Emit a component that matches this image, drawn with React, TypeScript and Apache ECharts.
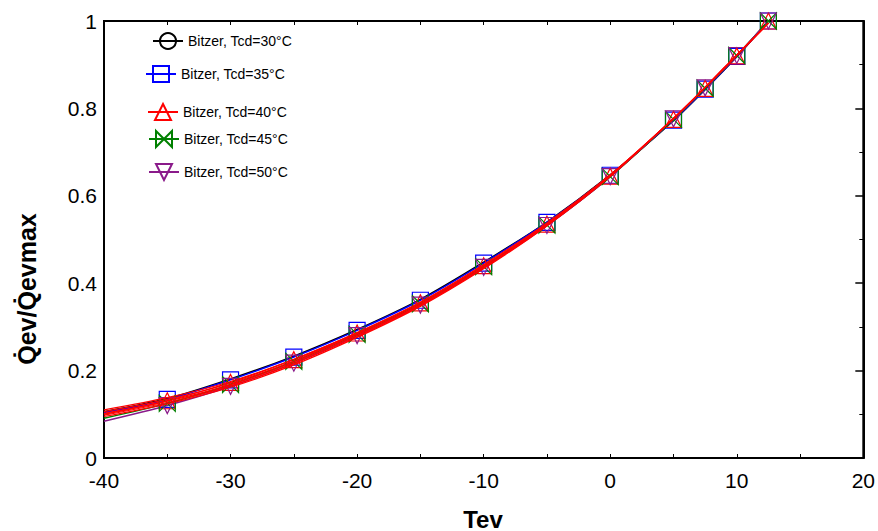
import React, { useEffect, useRef } from "react";
import * as echarts from "echarts";

const tev = [-40, -35, -30, -25, -20, -15, -10, -5, 0, 5, 7.5, 10, 12.5];

const tcd30 = [0.106, 0.136, 0.181, 0.233, 0.294, 0.363, 0.448, 0.540, 0.648, 0.772, 0.843, 0.918, 1.0];
const tcd35 = [0.104, 0.134, 0.179, 0.231, 0.292, 0.361, 0.446, 0.539, 0.647, 0.773, 0.844, 0.919, 1.0];
const tcd40 = [0.100, 0.131, 0.173, 0.225, 0.286, 0.355, 0.440, 0.535, 0.645, 0.775, 0.846, 0.920, 1.0];
const tcd45 = [0.091, 0.125, 0.168, 0.221, 0.283, 0.353, 0.438, 0.533, 0.644, 0.775, 0.846, 0.921, 1.0];
const tcd50 = [0.084, 0.120, 0.164, 0.217, 0.280, 0.350, 0.436, 0.532, 0.644, 0.776, 0.847, 0.921, 1.0];

const fitA = [0.110, 0.138, 0.175, 0.226, 0.287, 0.357, 0.443, 0.538, 0.648, 0.777, 0.848, 0.922, 0.995];
const fitB = [0.106, 0.134, 0.171, 0.222, 0.284, 0.354, 0.440, 0.536, 0.647, 0.777, 0.848, 0.922, 0.995];
const fitC = [0.102, 0.130, 0.168, 0.219, 0.281, 0.351, 0.437, 0.534, 0.646, 0.777, 0.848, 0.922, 0.995];
const fitD = [0.098, 0.127, 0.165, 0.216, 0.278, 0.349, 0.435, 0.533, 0.645, 0.777, 0.848, 0.922, 0.995];
const fitE = [0.095, 0.124, 0.162, 0.213, 0.276, 0.347, 0.433, 0.531, 0.644, 0.777, 0.848, 0.922, 0.995];

const seriesNames = [
  "Bitzer, Tcd=30°C",
  "Bitzer, Tcd=35°C",
  "Bitzer, Tcd=40°C",
  "Bitzer, Tcd=45°C",
  "Bitzer, Tcd=50°C",
];
const xTicks = [-40, -30, -20, -10, 0, 10, 20];
const yTicks = [0, 0.2, 0.4, 0.6, 0.8, 1];

const BOWTIE = "path://M0,0 L10,10 L10,0 L0,10 Z";
const DOWNTRI = "path://M0,0 L10,0 L5,10 Z";

export default function App() {
  const ref = useRef<HTMLDivElement>(null);
  useEffect(() => {
    if (!ref.current) return;
    document.body.style.margin = "0";
    document.body.style.overflow = "hidden";
    const chart = echarts.init(ref.current, undefined, { renderer: "svg" });

    const mk = (vals: number[], allNone: boolean) =>
      tev.map((x, i) =>
        allNone || i === 0 ? { value: [x, vals[i]], symbol: "none" } : { value: [x, vals[i]] }
      );

    const main = [
      { name: seriesNames[0], vals: tcd30, color: "#000000", symbol: "circle", none: true },
      { name: seriesNames[1], vals: tcd35, color: "#0000ff", symbol: "rect", none: false },
      { name: seriesNames[2], vals: tcd40, color: "#ff0000", symbol: "triangle", none: false },
      { name: seriesNames[3], vals: tcd45, color: "#008000", symbol: BOWTIE, none: false },
      { name: seriesNames[4], vals: tcd50, color: "#8a1a8a", symbol: DOWNTRI, none: false },
    ];

    const series: any[] = main.map((s) => ({
      name: s.name,
      type: "line",
      smooth: 0.3,
      xAxisIndex: 0,
      yAxisIndex: 0,
      data: mk(s.vals, s.none),
      symbol: s.symbol,
      symbolSize: 16,
      lineStyle: { color: s.color, width: 1.5 },
      itemStyle: { color: "rgba(0,0,0,0)", borderColor: s.color, borderWidth: 1.2 },
      z: 3,
    }));

    [fitA, fitB, fitC, fitD, fitE].forEach((f, k) => {
      series.push({
        name: "fit" + k,
        type: "line",
        smooth: 0.3,
        xAxisIndex: 0,
        yAxisIndex: 0,
        data: tev.map((x, i) => [x, f[i]]),
        showSymbol: false,
        symbol: "none",
        lineStyle: { color: "#ff0000", width: 1.2 },
        z: 4,
      });
    });

    const legendPos = [
      { left: 152, top: 32 },
      { left: 145, top: 65 },
      { left: 147, top: 103 },
      { left: 148, top: 130 },
      { left: 148, top: 163 },
    ];

    const legends = seriesNames.map((n, i) => ({
      data: [n],
      left: legendPos[i].left,
      top: legendPos[i].top,
      padding: 0,
      itemWidth: 30,
      itemHeight: 20,
      selectedMode: false,
      textStyle: { fontFamily: "Liberation Sans, Arial", fontSize: 14, color: "#000" },
    }));

    const option: any = {
      animation: false,
      backgroundColor: "#ffffff",
      grid: { left: 104, right: 14, top: 21, bottom: 73, show: true, borderColor: "#000", borderWidth: 2 },
      legend: legends,
      xAxis: [
        {
          type: "value",
          min: -40,
          max: 20,
          interval: 10,
          position: "bottom",
          axisLine: { show: true, onZero: false, lineStyle: { color: "#000", width: 2 } },
          axisTick: { show: true, inside: true, length: 4, lineStyle: { color: "#000" } },
          minorTick: { show: true, splitNumber: 2, length: 4, lineStyle: { color: "#000" } },
          splitLine: { show: false },
          axisLabel: {
            margin: 12,
            fontSize: 21,
            color: "#000",
            fontFamily: "Liberation Sans, Arial",
            customValues: xTicks,
          },
        },
        {
          type: "value",
          min: -40,
          max: 20,
          interval: 5,
          position: "top",
          axisLine: { show: true, onZero: false, lineStyle: { color: "#000", width: 2 } },
          axisTick: { show: true, inside: true, length: 4, lineStyle: { color: "#000" } },
          splitLine: { show: false },
          axisLabel: { show: false },
        },
      ],
      yAxis: [
        {
          type: "value",
          min: 0,
          max: 1,
          interval: 0.2,
          position: "left",
          axisLine: { show: true, onZero: false, lineStyle: { color: "#000", width: 2 } },
          axisTick: { show: false },
          splitLine: { show: false },
          axisLabel: {
            margin: 7,
            fontSize: 21,
            color: "#000",
            fontFamily: "Liberation Sans, Arial",
            customValues: yTicks,
          },
        },
        {
          type: "value",
          min: 0,
          max: 1,
          interval: 0.2,
          position: "right",
          axisLine: { show: true, onZero: false, lineStyle: { color: "#000", width: 2 } },
          axisTick: { show: true, inside: true, length: 8, lineStyle: { color: "#000", width: 1.5 } },
          minorTick: { show: true, splitNumber: 2, length: 4, lineStyle: { color: "#000" } },
          splitLine: { show: false },
          axisLabel: { show: false },
        },
      ],
      graphic: [
        {
          type: "text",
          x: 483,
          y: 519,
          style: {
            text: "Tev",
            fontSize: 24,
            fontWeight: "bold",
            fontFamily: "Liberation Sans, Arial",
            fill: "#000",
            textAlign: "center",
            textVerticalAlign: "middle",
          },
        },
        {
          type: "text",
          x: 39,
          y: 289,
          rotation: Math.PI / 2,
          style: {
            text: "Q\u0307ev/Q\u0307evmax",
            fontSize: 25,
            fontWeight: "bold",
            fontFamily: "Liberation Sans, Arial",
            fill: "#000",
            textAlign: "center",
            textVerticalAlign: "bottom",
          },
        },
      ],
      series,
    };
    chart.setOption(option);
    return () => chart.dispose();
  }, []);
  return <div ref={ref} style={{ position: "fixed", left: 0, top: 0, width: 878, height: 531 }} />;
}
